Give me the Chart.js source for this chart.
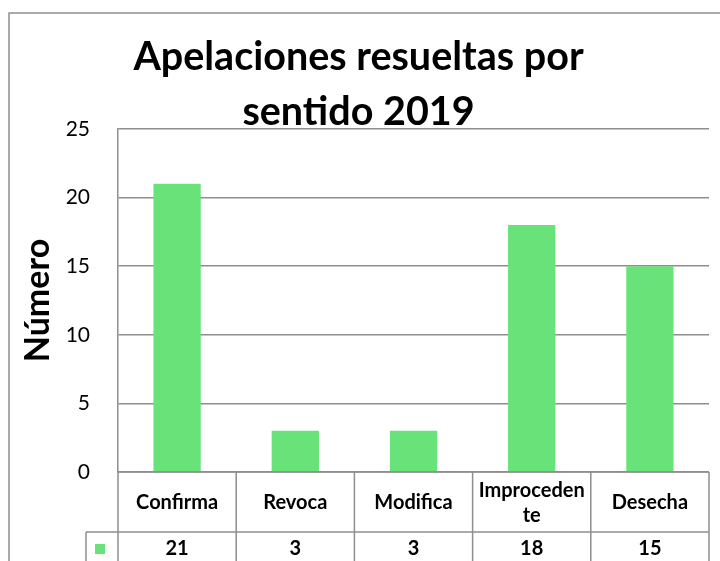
<!DOCTYPE html>
<html>
<head>
<meta charset="utf-8">
<title>Apelaciones resueltas por sentido 2019</title>
<script src="https://cdn.jsdelivr.net/npm/chart.js@4.4.1/dist/chart.umd.min.js"></script>
<style>
  html, body { margin: 0; padding: 0; background: #fff; }
  .chart-container { position: relative; width: 720px; height: 561px; }
</style>
</head>
<body>
<div class="chart-container">
  <canvas id="myChart"></canvas>
</div>
<script>
const categories = ["Confirma", "Revoca", "Modifica", "Improcedente", "Desecha"];
const values = [21, 3, 3, 18, 15];
const yTicks = [0, 5, 10, 15, 20, 25];

const BAR_COLOR = "#6ae27a";
const LINE_COLOR = "#8e8e8e";
const FONT = "Lato";

// split a label into lines that fit a cell, breaking inside words like Excel does
function wrapText(ctx, text, maxWidth) {
  const lines = [];
  let line = "";
  for (const ch of text) {
    if (line && ctx.measureText(line + ch).width > maxWidth) {
      lines.push(line);
      line = ch;
    } else {
      line += ch;
    }
  }
  if (line) lines.push(line);
  return lines;
}

// outer frame of the chart object
const framePlugin = {
  id: "frame",
  beforeDraw(chart) {
    const ctx = chart.ctx;
    ctx.save();
    ctx.strokeStyle = LINE_COLOR;
    ctx.lineWidth = 1.5;
    ctx.strokeRect(9, 13, chart.width + 10, chart.height + 10);
    ctx.restore();
  }
};

// data table under the plot, columns follow the x scale
const dataTablePlugin = {
  id: "dataTable",
  afterDraw(chart) {
    const ctx = chart.ctx;
    const area = chart.chartArea;
    const x = chart.scales.x;
    const headTop = area.bottom;
    const headBottom = headTop + 60;
    const rowBottom = chart.height + 5;
    const keyLeft = 86;

    const centers = categories.map((c, i) => x.getPixelForValue(i));
    const half = (centers[1] - centers[0]) / 2;
    const edges = centers.map(c => c - half).concat(centers[centers.length - 1] + half);

    ctx.save();
    ctx.strokeStyle = LINE_COLOR;
    ctx.lineWidth = 1.5;
    ctx.beginPath();
    edges.forEach(e => {
      ctx.moveTo(e, headTop);
      ctx.lineTo(e, rowBottom);
    });
    ctx.moveTo(edges[0], headTop);
    ctx.lineTo(edges[edges.length - 1], headTop);
    ctx.moveTo(keyLeft, headBottom);
    ctx.lineTo(edges[edges.length - 1], headBottom);
    ctx.moveTo(keyLeft, headBottom);
    ctx.lineTo(keyLeft, rowBottom);
    ctx.stroke();

    ctx.fillStyle = "#000";
    ctx.textAlign = "center";
    ctx.textBaseline = "middle";
    ctx.font = "bold 20px " + FONT;
    const lineH = 25;
    categories.forEach((cat, i) => {
      const lines = wrapText(ctx, cat, half * 2 - 8);
      const midY = (headTop + headBottom) / 2 + 1;
      lines.forEach((ln, j) => {
        ctx.fillText(ln, centers[i], midY + (j - (lines.length - 1) / 2) * lineH);
      });
    });

    const valueY = headBottom + 17;
    values.forEach((v, i) => {
      ctx.fillText(String(v), centers[i], valueY);
    });

    // legend key
    ctx.fillStyle = BAR_COLOR;
    ctx.fillRect(95, valueY - 5, 10, 10);
    ctx.restore();
  }
};

const ctx = document.getElementById("myChart").getContext("2d");

new Chart(ctx, {
  type: "bar",
  data: {
    labels: categories,
    datasets: [{
      label: "Número",
      data: values,
      backgroundColor: BAR_COLOR,
      barPercentage: 0.4,
      categoryPercentage: 1
    }]
  },
  options: {
    responsive: true,
    maintainAspectRatio: false,
    animation: false,
    layout: {
      padding: { left: 8, right: 11, top: 0, bottom: 89 }
    },
    plugins: {
      legend: { display: false },
      tooltip: { enabled: false },
      title: {
        display: true,
        text: ["Apelaciones resueltas por", "sentido 2019"],
        color: "#000",
        font: { family: FONT, size: 39.5, weight: "bold", lineHeight: 1.392 },
        padding: { top: 30, bottom: -11 }
      }
    },
    scales: {
      x: {
        display: false
      },
      y: {
        min: 0,
        max: 25,
        afterFit(scale) { scale.width = 110; },
        afterBuildTicks(scale) { scale.ticks = yTicks.map(v => ({ value: v })); },
        border: { display: true, color: LINE_COLOR, width: 1.5 },
        grid: { color: LINE_COLOR, lineWidth: 1.5, drawTicks: false },
        ticks: {
          color: "#000",
          padding: 28,
          font: { family: FONT, size: 21 }
        },
        title: {
          display: true,
          text: "Número",
          color: "#000",
          font: { family: FONT, size: 34, weight: "bold" },
          padding: { top: 10, bottom: 0 }
        }
      }
    }
  },
  plugins: [framePlugin, dataTablePlugin]
});
</script>
</body>
</html>
